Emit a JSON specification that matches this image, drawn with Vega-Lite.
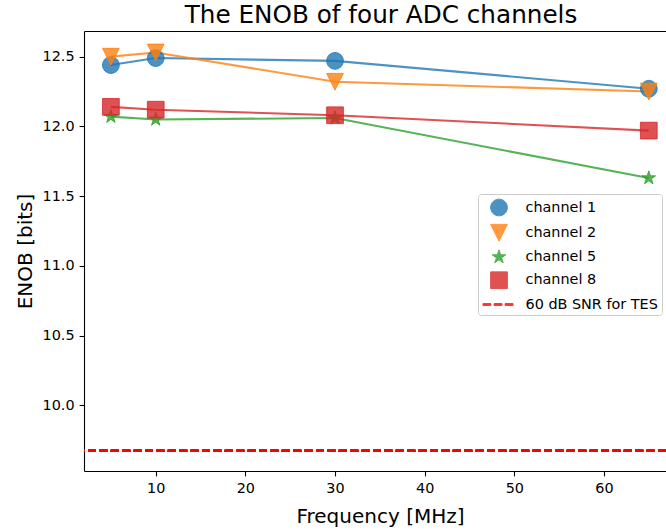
{
  "$schema": "https://vega.github.io/schema/vega-lite/v6.json",
  "width": 582,
  "height": 440,
  "autosize": "none",
  "padding": {"left": 84, "top": 31, "right": 0, "bottom": 59},
  "background": "white",
  "title": {
    "text": "The ENOB of four ADC channels",
    "anchor": "middle",
    "baseline": "alphabetic",
    "offset": -17,
    "dx": 6,
    "font": "DejaVu Sans",
    "fontSize": 24.7,
    "fontWeight": "normal",
    "color": "black"
  },
  "data": {
    "values": [
      {"channel": "channel 1", "freq": 5, "enob": 12.44},
      {"channel": "channel 1", "freq": 10, "enob": 12.49},
      {"channel": "channel 1", "freq": 30, "enob": 12.47},
      {"channel": "channel 1", "freq": 65, "enob": 12.27},
      {"channel": "channel 2", "freq": 5, "enob": 12.50},
      {"channel": "channel 2", "freq": 10, "enob": 12.53},
      {"channel": "channel 2", "freq": 30, "enob": 12.32},
      {"channel": "channel 2", "freq": 65, "enob": 12.25},
      {"channel": "channel 5", "freq": 5, "enob": 12.07},
      {"channel": "channel 5", "freq": 10, "enob": 12.05},
      {"channel": "channel 5", "freq": 30, "enob": 12.06},
      {"channel": "channel 5", "freq": 65, "enob": 11.63},
      {"channel": "channel 8", "freq": 5, "enob": 12.14},
      {"channel": "channel 8", "freq": 10, "enob": 12.12},
      {"channel": "channel 8", "freq": 30, "enob": 12.08},
      {"channel": "channel 8", "freq": 65, "enob": 11.97}
    ]
  },
  "config": {
    "view": {"stroke": null},
    "axis": {
      "domainColor": "black",
      "domainWidth": 1.1,
      "tickColor": "black",
      "tickWidth": 1.1,
      "tickSize": 4.9,
      "labelFont": "DejaVu Sans",
      "labelFontSize": 14.4,
      "labelColor": "black",
      "grid": false,
      "titleFont": "DejaVu Sans",
      "titleFontSize": 20,
      "titleFontWeight": "normal",
      "titleColor": "black"
    },
    "legend": {
      "padding": 4,
      "rowPadding": 4.25,
      "symbolSize": 324,
      "symbolStrokeWidth": 1,
      "symbolOffset": 7.5,
      "labelFont": "DejaVu Sans",
      "labelFontSize": 14.4,
      "labelColor": "black",
      "labelOffset": 17,
      "strokeColor": "#cccccc",
      "fillColor": "rgba(255,255,255,0.8)",
      "cornerRadius": 3
    }
  },
  "resolve": {"axis": {"x": "independent"}},
  "layer": [
    {
      "mark": {"type": "rule", "color": "#ff0000", "strokeWidth": 2.2, "strokeDash": [8, 3.4]},
      "encoding": {
        "y": {"datum": 9.674, "type": "quantitative", "title": "ENOB [bits]",
              "scale": {"domain": [9.53, 12.684], "zero": false, "nice": false}}
      }
    },
    {
      "mark": {"type": "line", "strokeWidth": 2.1, "opacity": 0.8},
      "encoding": {
        "x": {"field": "freq", "type": "quantitative", "title": null,
              "scale": {"domain": [2, 66.92], "nice": false, "zero": false},
              "axis": {"orient": "top", "labels": false, "ticks": false, "domain": true, "title": null}},
        "y": {"field": "enob", "type": "quantitative", "title": "ENOB [bits]",
              "scale": {"domain": [9.53, 12.684], "zero": false, "nice": false}},
        "color": {"field": "channel", "type": "nominal",
                  "scale": {"domain": ["channel 1", "channel 2", "channel 5", "channel 8", "60 dB SNR for TES"],
                            "range": ["#1f77b4", "#ff7f0e", "#2ca02c", "#d62728", "#ff0000"]},
                  "legend": {"orient": "none", "legendX": 394, "legendY": 163, "title": null,
                             "padding": 4, "rowPadding": 4.25, "symbolSize": 324, "symbolOffset": 7.5, "labelOffset": 17,
                             "labelFont": "DejaVu Sans", "labelFontSize": 14.4, "labelColor": "black",
                             "strokeColor": "#cccccc", "fillColor": "rgba(255,255,255,0.8)", "cornerRadius": 3}}
      }
    },
    {
      "mark": {"type": "point", "filled": true, "size": 324, "fillOpacity": 0.8, "strokeOpacity": 0.8, "strokeWidth": 1, "opacity": 1},
      "encoding": {
        "x": {"field": "freq", "type": "quantitative", "title": "Frequency [MHz]",
              "scale": {"domain": [2, 66.92], "nice": false, "zero": false},
              "axis": {"values": [10, 20, 30, 40, 50, 60], "labelPadding": 5.5,
                       "titleX": 296, "titleY": 51, "titleBaseline": "alphabetic", "titleAlign": "center", "titleAnchor": null}},
        "y": {"field": "enob", "type": "quantitative", "title": "ENOB [bits]",
              "scale": {"domain": [9.53, 12.684], "zero": false, "nice": false},
              "axis": {"values": [10, 10.5, 11, 11.5, 12, 12.5], "format": ".1f", "labelPadding": 5,
                       "titleX": -53, "titleY": 220, "titleBaseline": "alphabetic", "titleAlign": "center", "titleAngle": 270}},
        "color": {"field": "channel", "type": "nominal",
                  "scale": {"domain": ["channel 1", "channel 2", "channel 5", "channel 8", "60 dB SNR for TES"],
                            "range": ["#1f77b4", "#ff7f0e", "#2ca02c", "#d62728", "#ff0000"]},
                  "legend": {"orient": "none", "legendX": 394, "legendY": 163, "title": null,
                             "padding": 4, "rowPadding": 4.25, "symbolSize": 324, "symbolOffset": 7.5, "labelOffset": 17,
                             "labelFont": "DejaVu Sans", "labelFontSize": 14.4, "labelColor": "black",
                             "strokeColor": "#cccccc", "fillColor": "rgba(255,255,255,0.8)", "cornerRadius": 3}},
        "stroke": {"field": "channel", "type": "nominal", "legend": null,
                   "scale": {"domain": ["channel 8", "channel 5", "channel 2", "channel 1"],
                             "range": ["#d62728", "#2ca02c", "#ff7f0e", "#1f77b4"]}},
        "shape": {"field": "channel", "type": "nominal",
                  "scale": {"domain": ["channel 1", "channel 2", "channel 5", "channel 8", "60 dB SNR for TES"],
                            "range": [
                              "M0.93,0A0.93,0.93,0,1,1,-0.93,0A0.93,0.93,0,1,1,0.93,0Z",
                              "M-0.93,-0.93L0.93,-0.93L0,0.93Z",
                              "M0,-0.8L0.18,-0.247L0.761,-0.247L0.291,0.094L0.47,0.647L0,0.306L-0.47,0.647L-0.291,0.094L-0.761,-0.247L-0.18,-0.247Z",
                              "M-0.93,-0.93L0.93,-0.93L0.93,0.93L-0.93,0.93Z",
                              "M-1.78,-0.1L-0.9,-0.1L-0.9,0.1L-1.78,0.1ZM-0.55,-0.1L0.33,-0.1L0.33,0.1L-0.55,0.1ZM0.68,-0.1L1.56,-0.1L1.56,0.1L0.68,0.1Z"
                            ]},
                  "legend": {"orient": "none", "legendX": 394, "legendY": 163, "title": null,
                             "padding": 4, "rowPadding": 4.25, "symbolSize": 324, "symbolOffset": 7.5, "labelOffset": 17,
                             "labelFont": "DejaVu Sans", "labelFontSize": 14.4, "labelColor": "black",
                             "strokeColor": "#cccccc", "fillColor": "rgba(255,255,255,0.8)", "cornerRadius": 3}}
      }
    }
  ]
}
